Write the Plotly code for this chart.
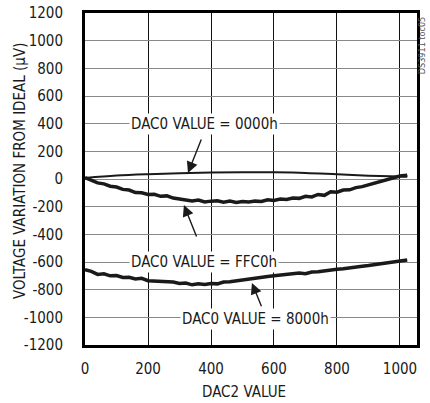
import plotly.graph_objects as go

# DAC2 codes sampled for the noisy curves
dac2_codes = [0, 20, 40, 60, 80, 100, 120, 140, 160, 180, 200, 220, 240, 260, 280, 300,
              320, 340, 360, 380, 400, 420, 440, 460, 480, 500, 520, 540, 560, 580, 600,
              620, 640, 660, 680, 700, 720, 740, 760, 780, 800, 820, 840, 860, 880, 900,
              920, 940, 960, 980, 1000, 1020, 1023]

ffc0_uv = [10, -8, -28, -35, -52, -58, -75, -80, -98, -100, -112, -110, -125, -122, -138, -145,
           -150, -158, -152, -166, -160, -158, -168, -160, -170, -163, -167, -160, -162, -150, -155,
           -145, -148, -138, -140, -125, -130, -112, -118, -92, -95, -80, -78, -62, -55, -42,
           -30, -12, 2, 10, 22, 28, 30]

v8000_uv = [-655, -668, -690, -685, -700, -698, -712, -710, -722, -718, -735, -738, -742, -748, -745, -755,
            -752, -765, -758, -762, -755, -758, -745, -742, -735, -732, -722, -718, -712, -705, -700,
            -695, -690, -688, -680, -684, -672, -670, -662, -660, -652, -648, -640, -638, -630, -625,
            -618, -615, -608, -602, -596, -588, -585]

# smooth 0000h curve
dac2_smooth = [0, 100, 200, 300, 400, 500, 600, 700, 800, 900, 1000, 1023]
v0000_uv = [8, 25, 35, 42, 47, 49, 48, 44, 34, 24, 18, 16]

x_ticks = [0, 200, 400, 600, 800, 1000]
x_labels = ["0", "200", "400", "600", "800", "1000"]
y_ticks = [1200, 1000, 800, 600, 400, 200, 0, -200, -400, -600, -800, -1000, -1200]
y_labels = ["1200", "1000", "800", "600", "400", "200", "0", "-200", "-400", "-600",
            "-800", "-1000", "-1200"]

FONT = "DejaVu Sans Condensed, Liberation Sans Narrow, sans-serif"
INK = "#1a1a1a"
FS = 15

fig = go.Figure()
fig.add_trace(go.Scatter(x=dac2_smooth, y=v0000_uv, mode="lines",
                         line=dict(color=INK, width=2, shape="spline"), hoverinfo="skip"))
fig.add_trace(go.Scatter(x=dac2_codes, y=ffc0_uv, mode="lines",
                         line=dict(color=INK, width=3.5), hoverinfo="skip"))
fig.add_trace(go.Scatter(x=dac2_codes, y=v8000_uv, mode="lines",
                         line=dict(color=INK, width=3.5), hoverinfo="skip"))

ann_font = dict(family=FONT, size=FS, color=INK)
labels = [
    ("DAC0 VALUE = 0000h", 378, 400),
    ("DAC0 VALUE = FFC0h", 378, -600),
    ("DAC0 VALUE = 8000h", 542, -1010),
]
annotations = []
for text, lx, ly in labels:
    annotations.append(dict(x=lx, y=ly, xref="x", yref="y", text=text, showarrow=False,
                            font=ann_font, bgcolor="white", borderpad=1))

arrows = [
    # tip (x, y), tail (x, y)
    (327, 43, 371, 296),
    (314, -188, 356, -426),
    (530, -751, 562, -931),
]
for tx, ty, sx, sy in arrows:
    annotations.append(dict(x=tx, y=ty, xref="x", yref="y", ax=sx, ay=sy, axref="x", ayref="y",
                            text="", showarrow=True, arrowhead=2, arrowsize=1.6,
                            arrowwidth=1.4, arrowcolor=INK))

annotations.append(dict(x=0, y=0.524, xref="paper", yref="paper", xshift=-65,
                        text="VOLTAGE VARIATION FROM IDEAL (µV)", textangle=-90,
                        showarrow=False, font=dict(family=FONT, size=FS, color=INK),
                        xanchor="center", yanchor="middle"))
annotations.append(dict(x=0.48, y=0, xref="paper", yref="paper", yshift=-47,
                        text="DAC2 VALUE", showarrow=False,
                        font=dict(family=FONT, size=FS, color=INK),
                        xanchor="center", yanchor="middle"))
annotations.append(dict(x=1, y=0.9, xref="paper", yref="paper", xshift=5,
                        text="DS3911 toc05", textangle=-90, showarrow=False,
                        font=dict(family=FONT, size=9, color="#555"),
                        xanchor="center", yanchor="middle"))

fig.update_layout(
    width=430, height=403,
    margin=dict(l=85, r=13, t=13, b=58),
    paper_bgcolor="white", plot_bgcolor="white",
    showlegend=False,
    annotations=annotations,
    font=dict(family=FONT, size=FS, color=INK),
)
fig.update_xaxes(range=[0, 1054], tickvals=x_ticks, ticktext=x_labels,
                 showgrid=True, gridcolor="#111", gridwidth=1, zeroline=False,
                 showline=True, linecolor="black", linewidth=3, mirror=True,
                 ticks="", ticklabelstandoff=8, automargin=False,
                 tickfont=dict(family=FONT, size=FS, color=INK))
fig.update_yaxes(range=[-1200, 1200], tickvals=y_ticks, ticktext=y_labels,
                 showgrid=True, gridcolor="#888", gridwidth=1,
                 zeroline=True, zerolinecolor="#888", zerolinewidth=1,
                 showline=True, linecolor="black", linewidth=3, mirror=True,
                 ticks="", ticklabelstandoff=16, automargin=False,
                 tickfont=dict(family=FONT, size=FS, color=INK))

fig.write_html("out.html", config={"displayModeBar": False, "staticPlot": True},
               post_script="document.body.style.margin='0';document.body.style.overflow='hidden';")
